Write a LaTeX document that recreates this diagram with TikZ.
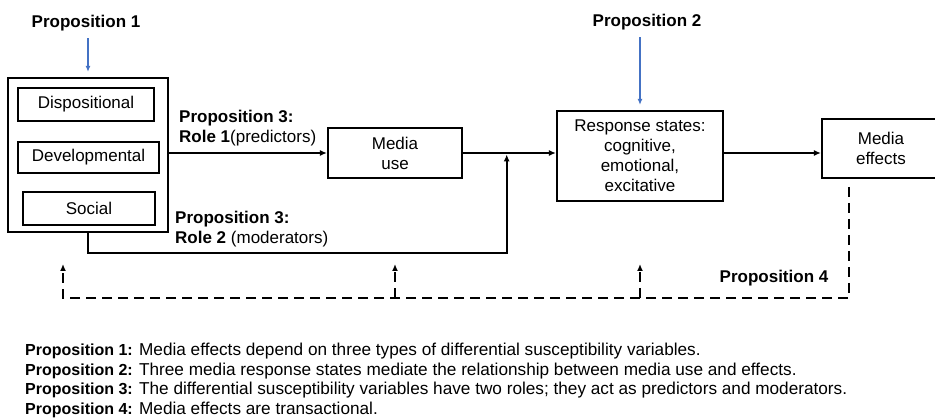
\documentclass[tikz,border=0pt]{standalone}
\usepackage{fontspec}
\setmainfont{Liberation Sans}
\usepackage{xcolor}
\usetikzlibrary{positioning,calc,arrows.meta}
\definecolor{propblue}{RGB}{68,114,196}
\newcommand{\propb}[1]{{\fontsize{16}{19.6}\selectfont\textbf{#1}}}
\tikzset{bx/.style={draw, line width=2.2pt, align=center, inner sep=0pt, font=\fontsize{17}{20}\selectfont}}
\tikzset{lbl/.style={inner sep=1pt, align=left, font=\fontsize{17}{20}\selectfont}}
\tikzset{arr/.style={draw, line width=2.2pt, -{Latex[length=7pt,width=6pt]}}}
\tikzset{fbk/.style={line width=2.2pt, dash pattern=on 10pt off 6pt}}
\tikzset{parr/.style={draw=propblue, line width=1.2pt, -{Latex[length=6pt,width=5pt]}}}

\begin{document}
\begin{tikzpicture}[x=1pt, y=-1pt]
    \useasboundingbox (0,0) rectangle (935,419);
    % susceptibility variables
    \node[bx, minimum width=160, minimum height=154] (S) at (88,155) {};
    \node[bx, minimum width=136, minimum height=33] (Dis) at (86,104.5) {Dispositional};
    \node[bx, minimum width=141, minimum height=31] (Dev) at (88.5,157.5) {Developmental};
    \node[bx, minimum width=132, minimum height=33] (Soc) at (89,208.5) {Social};
    % chain
    \node[bx, minimum width=134, minimum height=50] (U) at (395,153) {Media\\use};
    \node[bx, minimum width=166, minimum height=90] (R) at (640,156)
        {Response states:\\cognitive,\\emotional,\\excitative};
    \node[bx, minimum width=118, minimum height=59] (E) at (881,148.5) {Media\\effects};
    % labels
    \node[lbl] (P1) at (86,23) {\textbf{Proposition 1}};
    \node[lbl] (P2) at (647,22) {\textbf{Proposition 2}};
    \node[lbl, anchor=west] (Ro1) at (178,128) {\textbf{Proposition 3:}\\\textbf{Role 1}(predictors)};
    \node[lbl, anchor=west] (Ro2) at (174,229) {\textbf{Proposition 3:}\\\textbf{Role 2} (moderators)};
    \node[lbl] (P4) at (774,278) {\textbf{Proposition 4}};
    \node[lbl, anchor=west, font=\fontsize{17.2}{19.6}\selectfont] (T) at (24,380.5)
        {\propb{Proposition 1:} Media effects depend on three types of differential susceptibility variables.\\
         \propb{Proposition 2:} Three media response states mediate the relationship between media use and effects.\\
         \propb{Proposition 3:} The differential susceptibility variables have two roles; they act as predictors and moderators.\\
         \propb{Proposition 4:} Media effects are transactional.};

    \coordinate (J) at ($(U.east)!0.47!(R.west)$);
    \coordinate (Fb) at (849,187);
    \coordinate (Fl) at (63,298);

    \draw[parr] ([yshift=-6pt]P1.south -| S.north) -- ([yshift=5pt]S.north);
    \draw[parr] ([yshift=-6pt]P2.south -| R.north) -- ([yshift=5pt]R.north);
    \draw[arr] (S.east |- U.west) -- (U.west);
    \draw[arr] (U.east) -- (R.west |- U.east);
    \draw[arr] (R.east |- U) -- (E.west |- U);
    \draw[arr] (S.south) -- ++(0,20) -| (J);
    % feedback
    \draw[fbk, -{Latex[length=7pt,width=6pt]}] (Fb) |- (Fl) -- ++(0,-34);
    \draw[fbk, -{Latex[length=7pt,width=6pt]}] (U |- Fl) -- ++(0,-34);
    \draw[fbk, -{Latex[length=7pt,width=6pt]}] (R |- Fl) -- ++(0,-34);
\end{tikzpicture}
\end{document}
